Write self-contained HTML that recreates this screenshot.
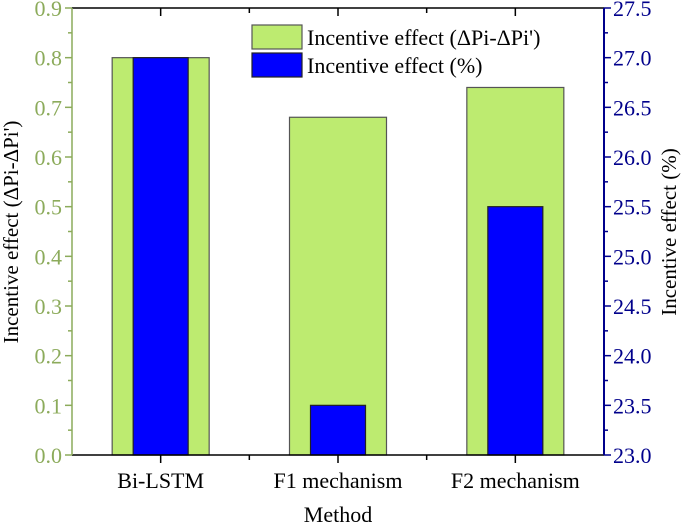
<!DOCTYPE html>
<html><head><meta charset="utf-8"><style>
body{margin:0;background:#fff;position:relative}
svg{display:block;font-family:"Liberation Serif",serif}
</style></head><body>
<svg id="c" width="685" height="524"></svg>
<script>
const categories=["Bi-LSTM","F1 mechanism","F2 mechanism"];
const deltaValues=[0.8,0.68,0.74];
const pctValues=[27.0,23.5,25.5];
const leftTicks=[0,0.1,0.2,0.3,0.4,0.5,0.6,0.7,0.8,0.9];
const rightTicks=[23.0,23.5,24.0,24.5,25.0,25.5,26.0,26.5,27.0,27.5];
const NS="http://www.w3.org/2000/svg";
const svg=document.getElementById('c');
const L=72,R=604,T=8,B=455;
const yL=v=>B-(v/0.9)*(B-T);
const yR=v=>B-((v-23)/4.5)*(B-T);
const slot=(R-L)/categories.length;
const xC=i=>L+slot*(i+0.5);
function el(t,a,txt){const e=document.createElementNS(NS,t);for(const k in a)e.setAttribute(k,a[k]);if(txt!=null)e.textContent=txt;svg.appendChild(e);return e;}
const G="#8cab5b",BL="#00008b";
categories.forEach((c,i)=>{
 const gw=97,bw=55,x=xC(i);
 const g=el('rect',{x:x-gw/2,y:yL(deltaValues[i]),width:gw,height:B-yL(deltaValues[i]),fill:'#bdeb70',stroke:'#555','stroke-width':1.2});
 
 
 const b=el('rect',{x:x-bw/2,y:yR(pctValues[i]),width:bw,height:B-yR(pctValues[i]),fill:'#0000ff',stroke:'#222','stroke-width':1.2});
 
 
 const t=el('text',{x:x,y:488,'text-anchor':'middle','font-size':22,fill:'#000'},c);
 
 
 el('line',{x1:x,x2:x,y1:B,y2:B+8,stroke:'#000','stroke-width':1.5});
 el('line',{x1:x,x2:x,y1:T,y2:T+8,stroke:'#000','stroke-width':1.5});
});
[1,2].forEach(i=>{const x=L+slot*i;el('line',{x1:x,x2:x,y1:B,y2:B+5,stroke:'#000','stroke-width':1.5});el('line',{x1:x,x2:x,y1:T,y2:T+5,stroke:'#000','stroke-width':1.5});});
el('line',{x1:L,x2:R,y1:T,y2:T,stroke:'#000','stroke-width':1.5});
el('line',{x1:L,x2:R,y1:B,y2:B,stroke:'#000','stroke-width':1.5});
el('line',{x1:L,x2:L,y1:T,y2:B,stroke:G,'stroke-width':1.5});
el('line',{x1:R,x2:R,y1:T,y2:B,stroke:BL,'stroke-width':2});
leftTicks.forEach(v=>{const y=yL(v);el('line',{x1:L-7,x2:L,y1:y,y2:y,stroke:G,'stroke-width':1.5});
 const t=el('text',{x:L-10,y:y+8,'text-anchor':'end','font-size':22,fill:G},v.toFixed(1));
 
 if(v<0.9)el('line',{x1:L-4,x2:L,y1:yL(v+0.05),y2:yL(v+0.05),stroke:G,'stroke-width':1.5});});
rightTicks.forEach(v=>{const y=yR(v);el('line',{x1:R,x2:R+7,y1:y,y2:y,stroke:BL,'stroke-width':1.5});
 const t=el('text',{x:R+9,y:y+8,'font-size':22,fill:BL},v.toFixed(1));
 
 if(v<27.5)el('line',{x1:R,x2:R+4,y1:yR(v+0.25),y2:yR(v+0.25),stroke:BL,'stroke-width':1.5});});
</script>
<svg style="position:absolute;left:0;top:0" width="685" height="524">
<text x="18" y="232" transform="rotate(-90 18 232)" text-anchor="middle" font-size="21" font-family="Liberation Serif,serif">Incentive effect (ΔPi-ΔPi')</text>
<text x="676" y="232" transform="rotate(-90 676 232)" text-anchor="middle" font-size="21" font-family="Liberation Serif,serif">Incentive effect (%)</text>
<text x="338" y="522" text-anchor="middle" font-size="22" font-family="Liberation Serif,serif">Method</text>
<g>
<rect x="252" y="25" width="50" height="24" fill="#bdeb70" stroke="#555" stroke-width="1.2"/>
<text x="307" y="45" font-size="22" font-family="Liberation Serif,serif">Incentive effect (ΔPi-ΔPi')</text>
<rect x="252" y="53" width="50" height="24" fill="#0000ff" stroke="#222" stroke-width="1.2"/>
<text x="307" y="73" font-size="22" font-family="Liberation Serif,serif">Incentive effect (%)</text>
</g>
</svg>
</body></html>
